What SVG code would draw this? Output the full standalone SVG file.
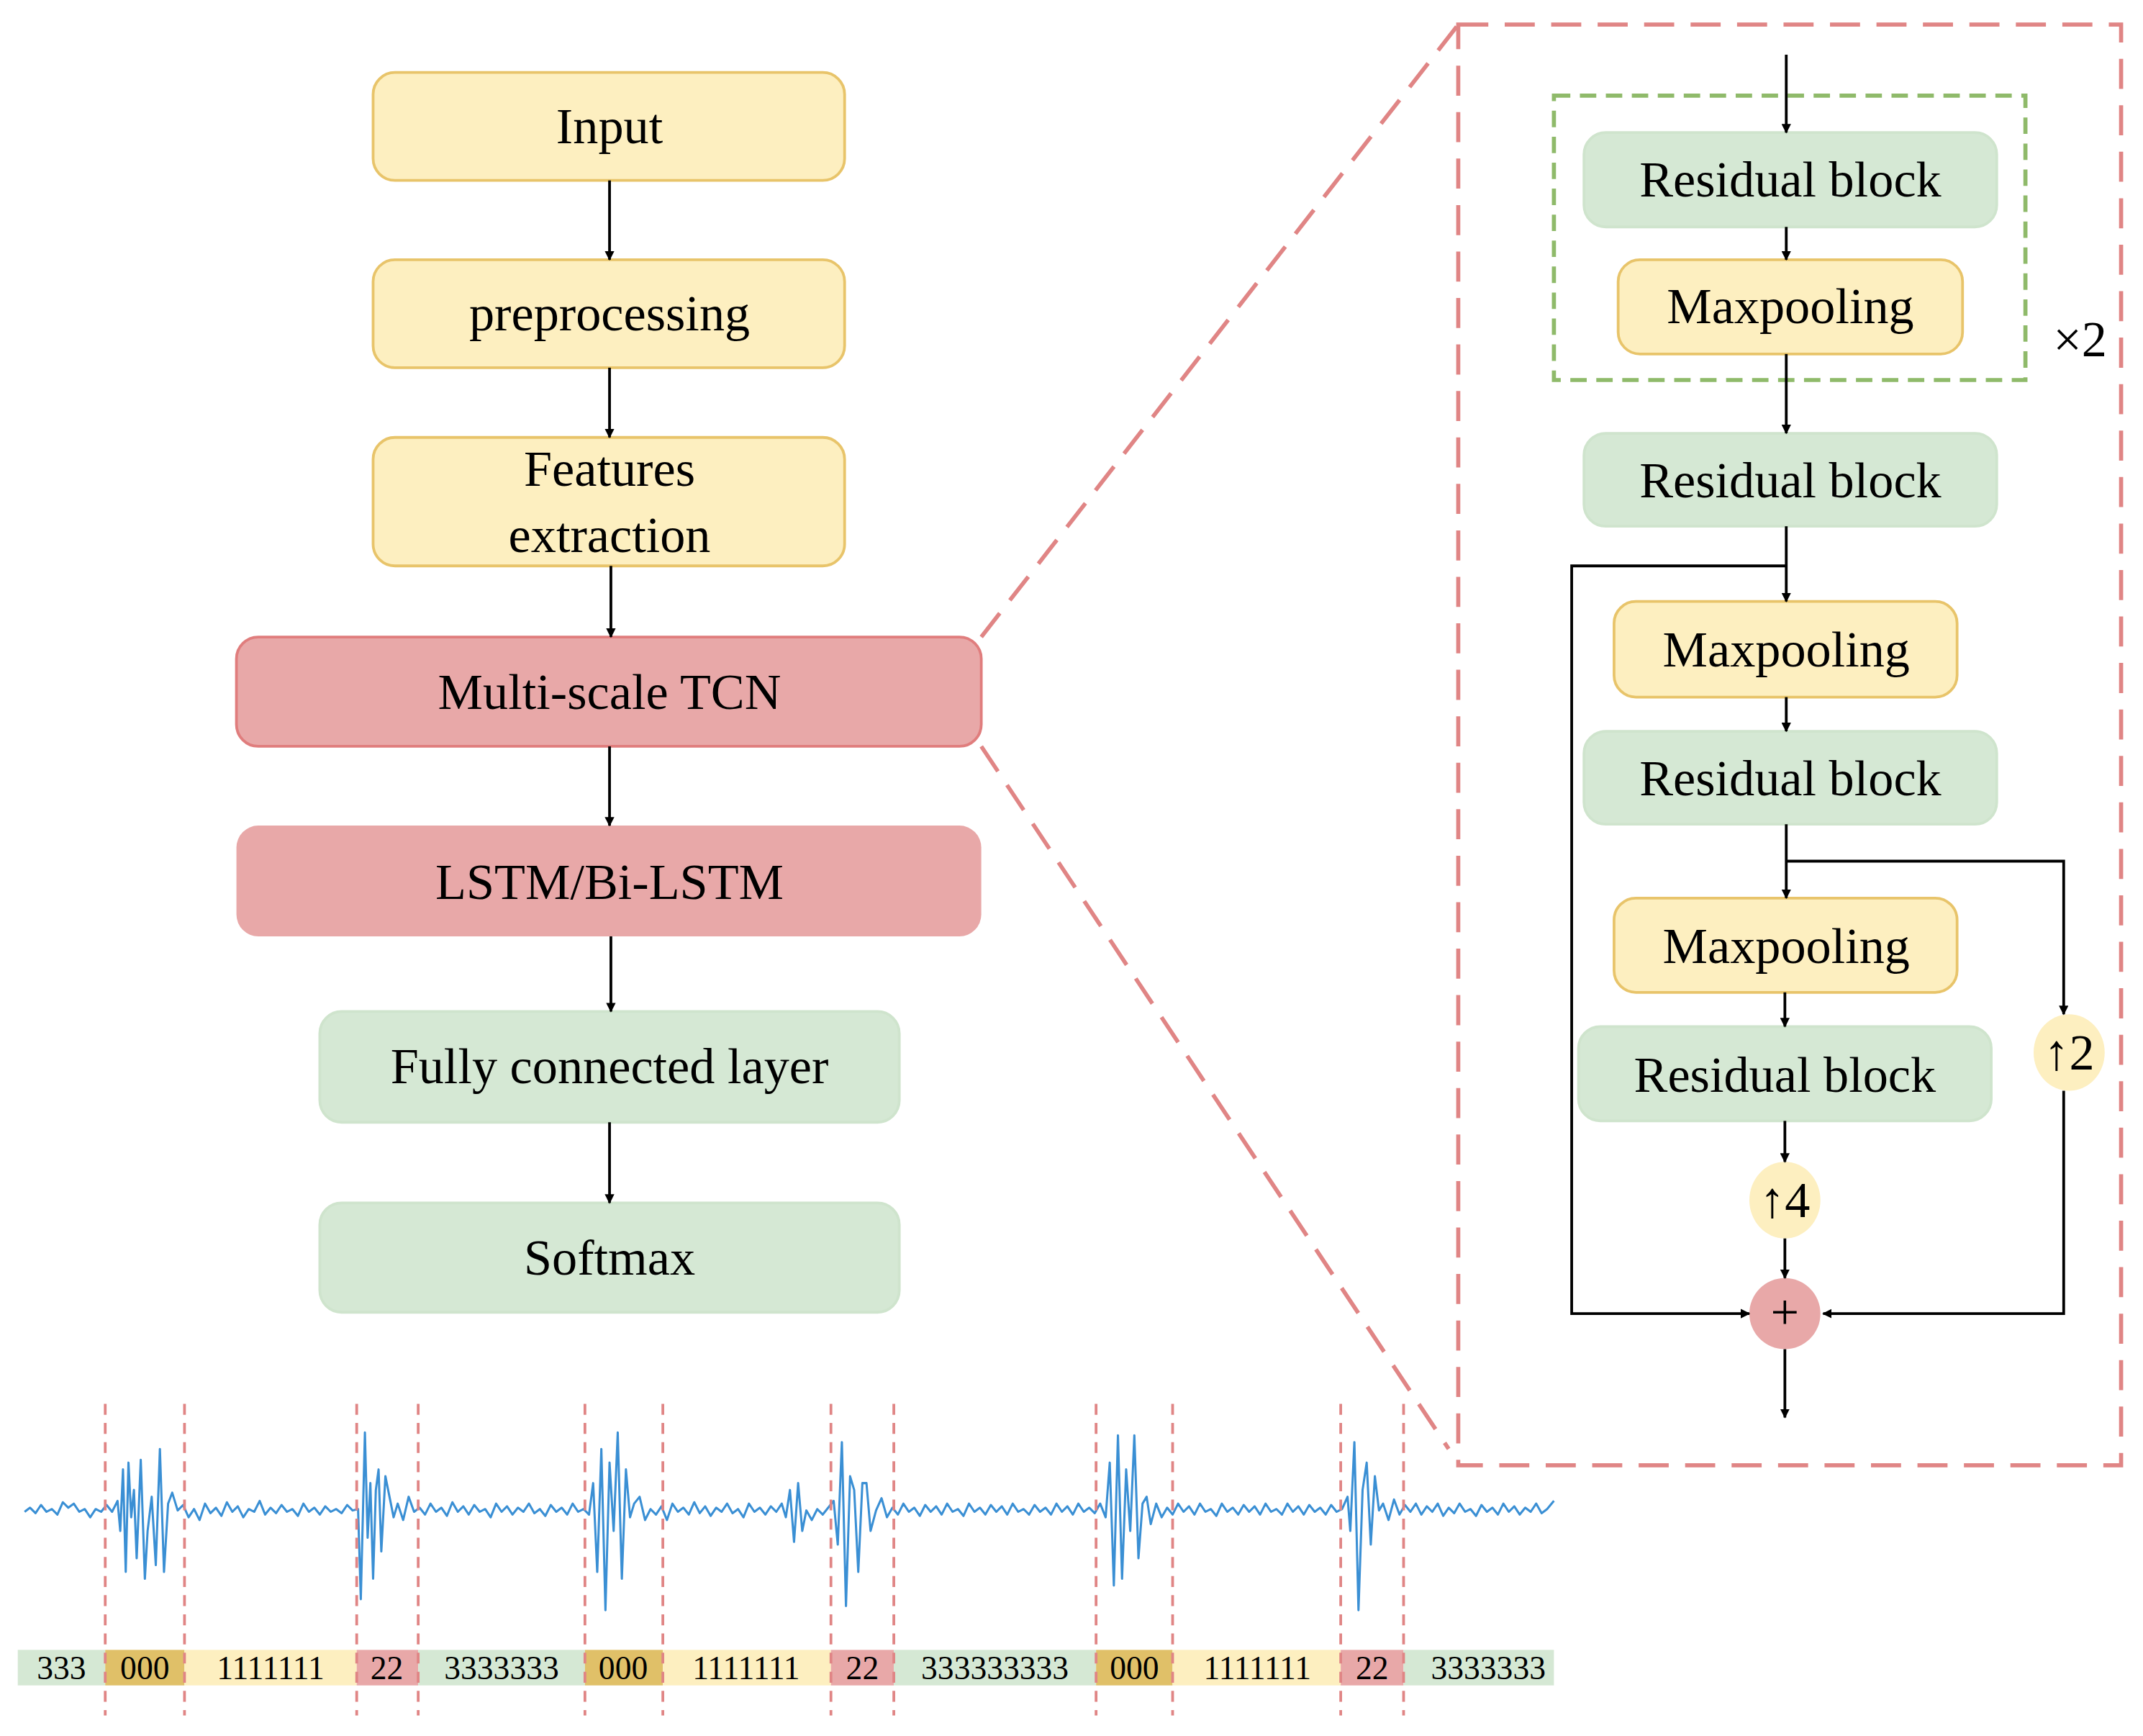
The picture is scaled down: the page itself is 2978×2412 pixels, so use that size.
<svg xmlns="http://www.w3.org/2000/svg" width="2978" height="2412" viewBox="0 0 2978 2412">
<defs>
<marker id="ah" viewBox="0 0 10 10" refX="9" refY="5" markerWidth="7" markerHeight="7" orient="auto" markerUnits="userSpaceOnUse"><path d="M0,0 L10,5 L0,10 z" fill="#000"/></marker>
<style>
.t{font-family:"Liberation Serif","DejaVu Serif",serif;font-size:37px;fill:#000;text-anchor:middle;dominant-baseline:central}
.s{font-family:"Liberation Serif",serif;font-size:24px;fill:#000;text-anchor:middle;dominant-baseline:central}
.y{fill:#fdefc0;stroke:#e8c46a;stroke-width:2}
.r{fill:#e8a8a8;stroke:#e07d7d;stroke-width:2}
.g{fill:#d5e8d4;stroke:#cfe4cd;stroke-width:2}
.c{stroke:#000;stroke-width:2;fill:none}
.a{stroke:#000;stroke-width:2;fill:none;marker-end:url(#ah)}
.d{stroke:#e08585;stroke-width:2;fill:none;stroke-dasharray:8 6}
</style>
</defs>
<rect width="2978" height="2412" fill="#fff"/>
<g transform="scale(1.8992)">
<g id="zoomlines"><path d="M718,466 L1067,18 M718,546 L1060,1060" stroke="#e08585" stroke-width="3" stroke-dasharray="22 12" fill="none"/>
<rect x="1067" y="18" width="485" height="1054" fill="none" stroke="#e08585" stroke-width="3" stroke-dasharray="22 12"/>
<rect x="1137" y="70" width="345" height="208" fill="none" stroke="#8fba6a" stroke-width="3" stroke-dasharray="12 7"/></g>
<g id="input"><rect class="y" x="273" y="53" width="345" height="79" rx="16"/><text class="t" x="446" y="92">Input</text></g>
<g id="prep"><rect class="y" x="273" y="190" width="345" height="79" rx="16"/><text class="t" x="446" y="229">preprocessing</text></g>
<g id="feat"><rect class="y" x="273" y="320" width="345" height="94" rx="16"/><text class="t" x="446" y="343">Features</text><text class="t" x="446" y="391">extraction</text></g>
<g id="tcn"><rect class="r" x="173" y="466" width="545" height="80" rx="16"/><text class="t" x="446" y="506">Multi-scale TCN</text></g>
<g id="lstm"><rect x="173" y="604" width="545" height="81" rx="16" fill="#e8a8a8"/><text class="t" x="446" y="645">LSTM/Bi-LSTM</text></g>
<g id="fc"><rect class="g" x="234" y="740" width="424" height="81" rx="16"/><text class="t" x="446" y="780">Fully connected layer</text></g>
<g id="softmax"><rect class="g" x="234" y="880" width="424" height="80" rx="16"/><text class="t" x="446" y="920">Softmax</text></g>
<g id="rb1"><rect class="g" x="1159" y="97" width="302" height="69" rx="16"/><text class="t" x="1310" y="131">Residual block</text></g>
<g id="mp1"><rect class="y" x="1184" y="190" width="252" height="69" rx="16"/><text class="t" x="1310" y="224">Maxpooling</text></g>
<g id="rb2"><rect class="g" x="1159" y="317" width="302" height="68" rx="16"/><text class="t" x="1310" y="351">Residual block</text></g>
<g id="mp2"><rect class="y" x="1181" y="440" width="251" height="70" rx="16"/><text class="t" x="1307" y="475">Maxpooling</text></g>
<g id="rb3"><rect class="g" x="1159" y="535" width="302" height="68" rx="16"/><text class="t" x="1310" y="569">Residual block</text></g>
<g id="mp3"><rect class="y" x="1181" y="657" width="251" height="69" rx="16"/><text class="t" x="1307" y="692">Maxpooling</text></g>
<g id="rb4"><rect class="g" x="1155" y="751" width="302" height="69" rx="16"/><text class="t" x="1306" y="786">Residual block</text></g>
<g id="up2"><ellipse cx="1514" cy="770" rx="26" ry="28" fill="#fdefc0"/><text class="t" x="1514" y="770">↑2</text></g>
<g id="up4"><ellipse cx="1306" cy="878" rx="26" ry="28" fill="#fdefc0"/><text class="t" x="1306" y="878">↑4</text></g>
<g id="plus"><ellipse cx="1306" cy="961" rx="26" ry="26" fill="#e8a8a8"/><text class="t" x="1306" y="960" font-size="40">+</text></g>
<text class="t" x="1522" y="248" font-size="30">×2</text>
<g id="connectors">
<path class="a" d="M446,132 V190"/><path class="a" d="M446,269 V320"/><path class="a" d="M447,414 V466"/>
<path class="a" d="M446,546 V604"/><path class="a" d="M447,685 V740"/><path class="a" d="M446,821 V880"/>
<path class="a" d="M1307,40 V97"/><path class="a" d="M1307,166 V190"/><path class="a" d="M1307,259 V317"/>
<path class="a" d="M1307,385 V440"/><path class="a" d="M1307,510 V535"/><path class="a" d="M1307,603 V657"/>
<path class="a" d="M1306,726 V751"/><path class="a" d="M1306,820 V850"/><path class="a" d="M1306,906 V935"/>
<path class="a" d="M1306,987 V1037"/>
<path class="a" d="M1307,414 H1150 V961 H1280"/>
<path class="a" d="M1307,630 H1510 V742"/>
<path class="a" d="M1510,798 V961 H1334"/>
</g>
<g id="signal">
<polyline fill="none" stroke="#3a8fd4" stroke-width="1.6" stroke-linejoin="round" points="18,1106 22,1103 26,1107 30,1101 34,1106 38,1104 42,1108 46,1099 50,1103 54,1100 58,1106 62,1104 66,1110 70,1104 74,1106 78,1101 82,1106 86,1098 88,1120 90,1075 92,1150 94,1070 96,1110 98,1090 100,1140 103,1068 106,1155 108,1120 111,1095 114,1145 117,1060 120,1150 123,1100 126,1092 130,1105 134,1101 138,1110 142,1104 146,1112 150,1100 154,1107 158,1103 162,1109 166,1099 170,1106 174,1102 178,1110 182,1104 186,1106 190,1098 194,1108 198,1103 202,1107 206,1101 210,1106 214,1104 218,1109 222,1100 226,1106 230,1103 234,1108 238,1102 242,1106 246,1104 250,1107 254,1101 258,1105 262,1104 264,1170 267,1048 269,1125 271,1085 273,1155 275,1090 277,1075 279,1135 282,1080 285,1095 288,1110 291,1100 295,1112 299,1095 303,1106 307,1103 311,1108 315,1100 319,1106 323,1103 327,1109 331,1099 335,1106 339,1102 343,1108 347,1101 351,1106 355,1104 359,1110 363,1100 367,1106 371,1102 375,1108 379,1103 383,1106 387,1100 391,1107 395,1104 399,1109 403,1101 407,1106 411,1103 415,1108 419,1100 423,1106 427,1104 431,1108 434,1085 437,1150 440,1060 443,1178 446,1070 449,1120 452,1048 455,1155 458,1075 461,1110 464,1100 468,1095 472,1112 476,1104 480,1108 484,1102 488,1112 492,1100 496,1106 500,1103 504,1108 508,1099 512,1107 516,1102 520,1109 524,1103 528,1106 532,1100 536,1107 540,1104 544,1110 548,1100 552,1106 556,1103 560,1108 564,1102 568,1106 572,1100 575,1110 578,1090 581,1128 584,1085 587,1120 590,1105 594,1112 598,1104 602,1108 606,1103 610,1098 613,1130 616,1055 619,1175 622,1080 625,1090 628,1150 631,1085 634,1085 637,1120 641,1105 645,1096 649,1110 653,1103 657,1108 661,1100 665,1106 669,1103 673,1109 677,1101 681,1106 685,1102 689,1108 693,1100 697,1106 701,1104 705,1109 709,1100 713,1106 717,1103 721,1108 725,1101 729,1106 733,1102 737,1108 741,1100 745,1106 749,1104 753,1108 757,1101 761,1106 765,1103 769,1108 773,1100 777,1106 781,1102 785,1108 789,1100 793,1106 797,1103 801,1107 805,1100 809,1110 812,1070 815,1160 818,1050 821,1155 824,1075 827,1120 830,1050 833,1140 836,1100 839,1095 842,1115 846,1100 850,1110 854,1103 858,1108 862,1100 866,1106 870,1102 874,1108 878,1100 882,1106 886,1104 890,1109 894,1100 898,1106 902,1103 906,1108 910,1101 914,1106 918,1102 922,1108 926,1100 930,1106 934,1104 938,1108 942,1100 946,1106 950,1102 954,1108 958,1101 962,1106 966,1103 970,1108 974,1101 978,1106 982,1104 986,1095 988,1120 991,1055 994,1178 997,1090 1000,1070 1003,1130 1006,1080 1009,1105 1012,1100 1016,1112 1020,1097 1024,1108 1028,1101 1032,1106 1036,1100 1040,1108 1044,1102 1048,1106 1052,1100 1056,1109 1060,1103 1064,1107 1068,1100 1072,1106 1076,1104 1080,1109 1084,1101 1088,1106 1092,1103 1096,1108 1100,1100 1104,1106 1108,1102 1112,1108 1116,1103 1120,1106 1124,1100 1128,1107 1132,1104 1137,1098"/>
</g>
<g id="labels">
<rect x="13" y="1207" width="64" height="26" fill="#d5e8d4"/><text class="s" x="45" y="1220">333</text>
<rect x="77" y="1207" width="58" height="26" fill="#e0c068"/><text class="s" x="106" y="1220">000</text>
<rect x="135" y="1207" width="126" height="26" fill="#fdefc0"/><text class="s" x="198" y="1220">1111111</text>
<rect x="261" y="1207" width="45" height="26" fill="#e8a8a8"/><text class="s" x="283" y="1220">22</text>
<rect x="306" y="1207" width="122" height="26" fill="#d5e8d4"/><text class="s" x="367" y="1220">3333333</text>
<rect x="428" y="1207" width="57" height="26" fill="#e0c068"/><text class="s" x="456" y="1220">000</text>
<rect x="485" y="1207" width="123" height="26" fill="#fdefc0"/><text class="s" x="546" y="1220">1111111</text>
<rect x="608" y="1207" width="46" height="26" fill="#e8a8a8"/><text class="s" x="631" y="1220">22</text>
<rect x="654" y="1207" width="148" height="26" fill="#d5e8d4"/><text class="s" x="728" y="1220">333333333</text>
<rect x="802" y="1207" width="56" height="26" fill="#e0c068"/><text class="s" x="830" y="1220">000</text>
<rect x="858" y="1207" width="123" height="26" fill="#fdefc0"/><text class="s" x="920" y="1220">1111111</text>
<rect x="981" y="1207" width="46" height="26" fill="#e8a8a8"/><text class="s" x="1004" y="1220">22</text>
<rect x="1027" y="1207" width="110" height="26" fill="#d5e8d4"/><text class="s" x="1089" y="1220">3333333</text>
</g>
<g id="markers">
<path class="d" d="M77,1027 V1255 M135,1027 V1255 M261,1027 V1255 M306,1027 V1255 M428,1027 V1255 M485,1027 V1255 M608,1027 V1255 M654,1027 V1255 M802,1027 V1255 M858,1027 V1255 M981,1027 V1255 M1027,1027 V1255"/>
</g>
</g>
</svg>
